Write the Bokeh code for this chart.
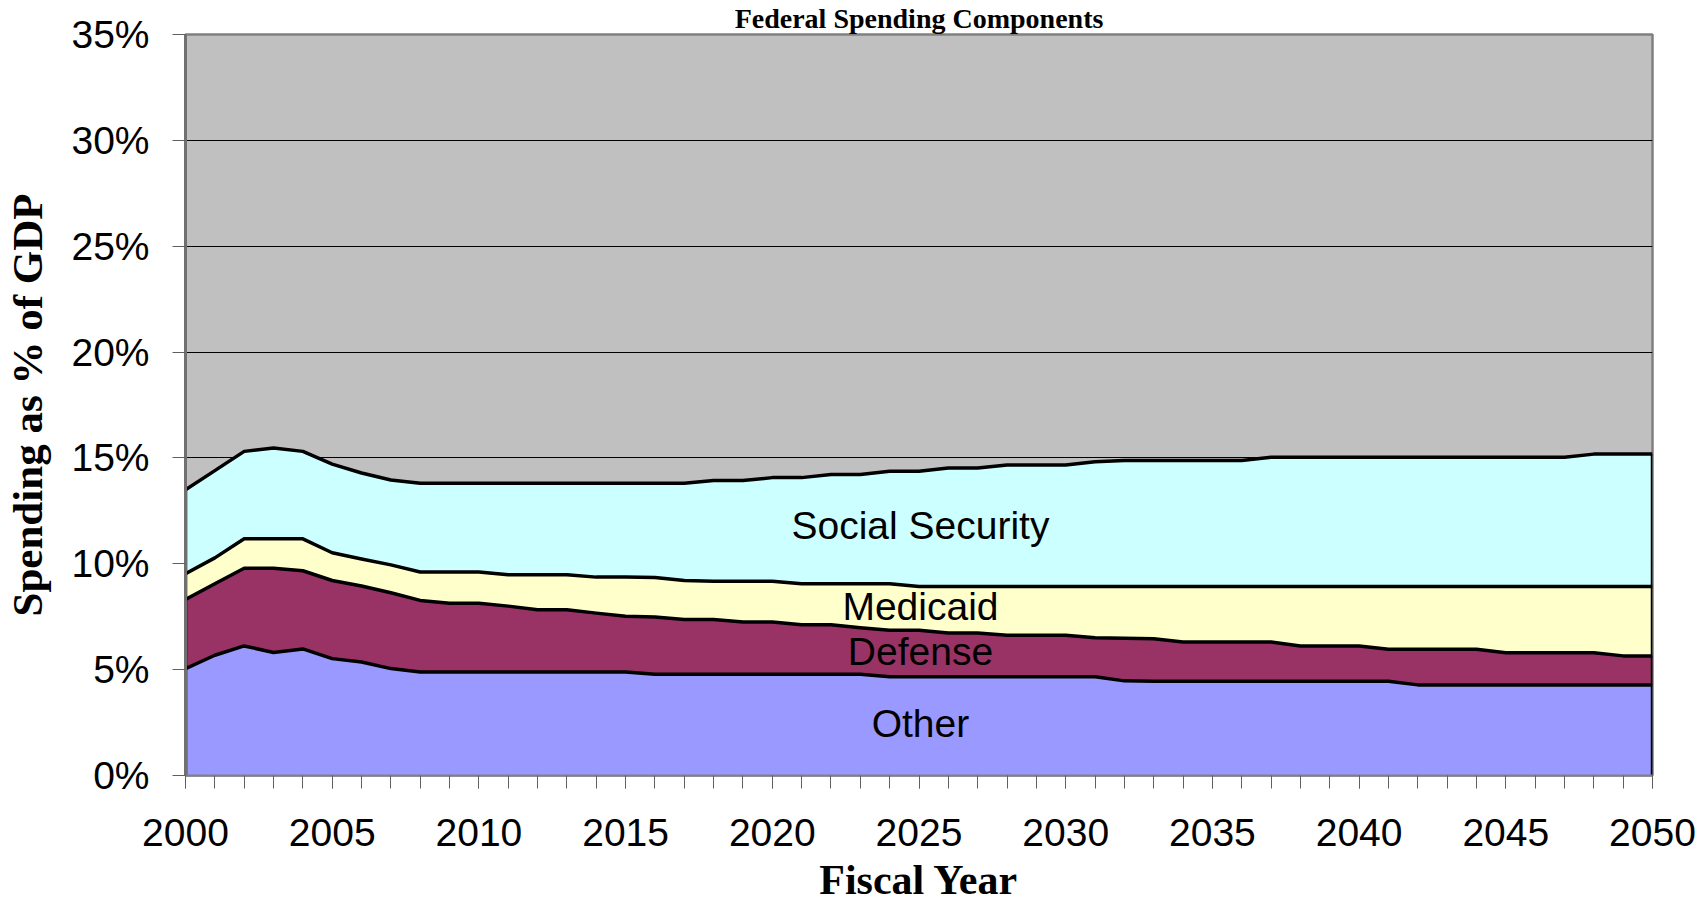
from bokeh.plotting import figure
from bokeh.models import Range1d, FixedTicker, PrintfTickFormatter, ColumnDataSource, Label, Title
from bokeh.embed import file_html
from bokeh.resources import INLINE
import numpy as np

years = list(range(2000, 2051))
other = [5.05, 5.68, 6.12, 5.81, 5.98, 5.52, 5.36, 5.05, 4.89, 4.89,
         4.89, 4.89, 4.89, 4.89, 4.89, 4.89, 4.78, 4.78, 4.78, 4.78,
         4.78, 4.78, 4.78, 4.78, 4.66, 4.66, 4.66, 4.66, 4.66, 4.66,
         4.66, 4.66, 4.47, 4.45, 4.45, 4.45, 4.45, 4.45, 4.45, 4.45,
         4.45, 4.45, 4.28, 4.28, 4.28, 4.28, 4.28, 4.28, 4.28, 4.28,
         4.28]
defense = [3.27, 3.38, 3.67, 3.98, 3.69, 3.69, 3.59, 3.58, 3.38, 3.25,
           3.25, 3.11, 2.94, 2.94, 2.78, 2.63, 2.71, 2.59, 2.59, 2.47,
           2.47, 2.34, 2.34, 2.20, 2.20, 2.20, 2.07, 2.07, 1.96, 1.96,
           1.96, 1.85, 2.01, 2.01, 1.86, 1.86, 1.86, 1.86, 1.67, 1.67,
           1.67, 1.51, 1.68, 1.68, 1.68, 1.52, 1.52, 1.52, 1.52, 1.37,
           1.37]
medicaid = [1.21, 1.22, 1.39, 1.39, 1.51, 1.31, 1.28, 1.32, 1.34, 1.47,
            1.47, 1.48, 1.65, 1.65, 1.70, 1.85, 1.86, 1.84, 1.81, 1.93,
            1.93, 1.94, 1.94, 2.08, 2.20, 2.07, 2.20, 2.20, 2.31, 2.31,
            2.31, 2.42, 2.45, 2.47, 2.62, 2.62, 2.62, 2.62, 2.81, 2.81,
            2.81, 2.97, 2.97, 2.97, 2.97, 3.13, 3.13, 3.13, 3.13, 3.28,
            3.28]
social_security = [3.97, 4.12, 4.13, 4.29, 4.13, 4.19, 4.06, 4.01, 4.19, 4.19,
                   4.19, 4.32, 4.32, 4.32, 4.43, 4.43, 4.45, 4.59, 4.75, 4.75,
                   4.89, 5.01, 5.16, 5.16, 5.31, 5.44, 5.59, 5.59, 5.74, 5.74,
                   5.74, 5.89, 5.95, 5.95, 5.95, 5.95, 5.95, 6.10, 6.10, 6.10,
                   6.10, 6.10, 6.10, 6.10, 6.10, 6.10, 6.10, 6.10, 6.25, 6.25,
                   6.25]
series_names = ["Other", "Defense", "Medicaid", "Social Security"]
series_colors = ["#9999FF", "#993366", "#FFFFCC", "#CCFFFF"]
y_ticks = [0, 5, 10, 15, 20, 25, 30, 35]
x_ticks = [2000, 2005, 2010, 2015, 2020, 2025, 2030, 2035, 2040, 2045, 2050]

src = ColumnDataSource(dict(year=years, other=other, defense=defense,
                            medicaid=medicaid, ss=social_security))
keys = ["other", "defense", "medicaid", "ss"]

p = figure(width=1703, height=906, output_backend="svg", toolbar_location=None,
           x_range=Range1d(2000, 2050), y_range=Range1d(0, 35),
           min_border_left=185, min_border_right=51, min_border_top=33,
           min_border_bottom=131)
p.background_fill_color = "#C0C0C0"
p.border_fill_color = "white"
p.outline_line_color = "#808080"
p.outline_line_width = 2.5

p.varea_stack(keys, x="year", source=src, color=series_colors)
p.vline_stack(keys, x="year", source=src, line_color="black", line_width=3.5,
              line_join="round")
total = np.sum([other, defense, medicaid, social_security], axis=0)
p.segment(x0=[years[0], years[-1]], y0=[0, 0], x1=[years[0], years[-1]],
          y1=[total[0], total[-1]], line_color="black", line_width=3.5)

# grid
p.xgrid.visible = False
p.ygrid.ticker = FixedTicker(ticks=y_ticks)
p.ygrid.grid_line_color = "black"
p.ygrid.grid_line_width = 1

# title
p.add_layout(Title(text="Federal Spending Components", align="center", offset=-48,
                   text_font="Liberation Serif", text_font_style="bold",
                   text_font_size="28px", text_color="black", standoff=1), "above")

# axes
xa = p.xaxis[0]
xa.ticker = FixedTicker(ticks=x_ticks, minor_ticks=years)
xa.major_tick_out = 13
xa.major_tick_in = 0
xa.minor_tick_out = 13
xa.minor_tick_in = 0
xa.major_tick_line_color = "#606060"
xa.minor_tick_line_color = "#606060"
xa.axis_line_color = "#808080"
xa.axis_line_width = 2
xa.major_label_text_font = "Liberation Sans"
xa.major_label_text_font_size = "39px"
xa.major_label_text_color = "black"
xa.major_label_standoff = 30
xa.axis_label = "Fiscal Year"
xa.axis_label_text_font = "Liberation Serif"
xa.axis_label_text_font_style = "bold"
xa.axis_label_text_font_size = "42px"
xa.axis_label_text_color = "black"
xa.axis_label_standoff = 8

ya = p.yaxis[0]
ya.ticker = FixedTicker(ticks=y_ticks)
ya.formatter = PrintfTickFormatter(format="%d%%")
ya.major_tick_out = 13
ya.major_tick_in = 0
ya.minor_tick_line_color = None
ya.major_tick_line_color = "#606060"
ya.axis_line_color = "#707070"
ya.axis_line_width = 3
ya.major_label_text_font = "Liberation Sans"
ya.major_label_text_font_size = "39px"
ya.major_label_text_color = "black"
ya.major_label_standoff = 23
ya.axis_label = "Spending as % of GDP"
ya.axis_label_text_font = "Liberation Serif"
ya.axis_label_text_font_style = "bold"
ya.axis_label_text_font_size = "43px"
ya.axis_label_text_color = "black"
ya.axis_label_standoff = 17

# in-area labels
label_font = "Liberation Sans"
for txt, yv in [("Social Security", 11.79), ("Medicaid", 7.97), ("Defense", 5.85), ("Other", 2.47)]:
    p.add_layout(Label(x=2025.05, y=yv, text=txt, text_align="center",
                       text_baseline="alphabetic", text_font=label_font,
                       text_font_size="39px", text_color="black"))

open("out.html", "w").write(file_html(p, INLINE))
